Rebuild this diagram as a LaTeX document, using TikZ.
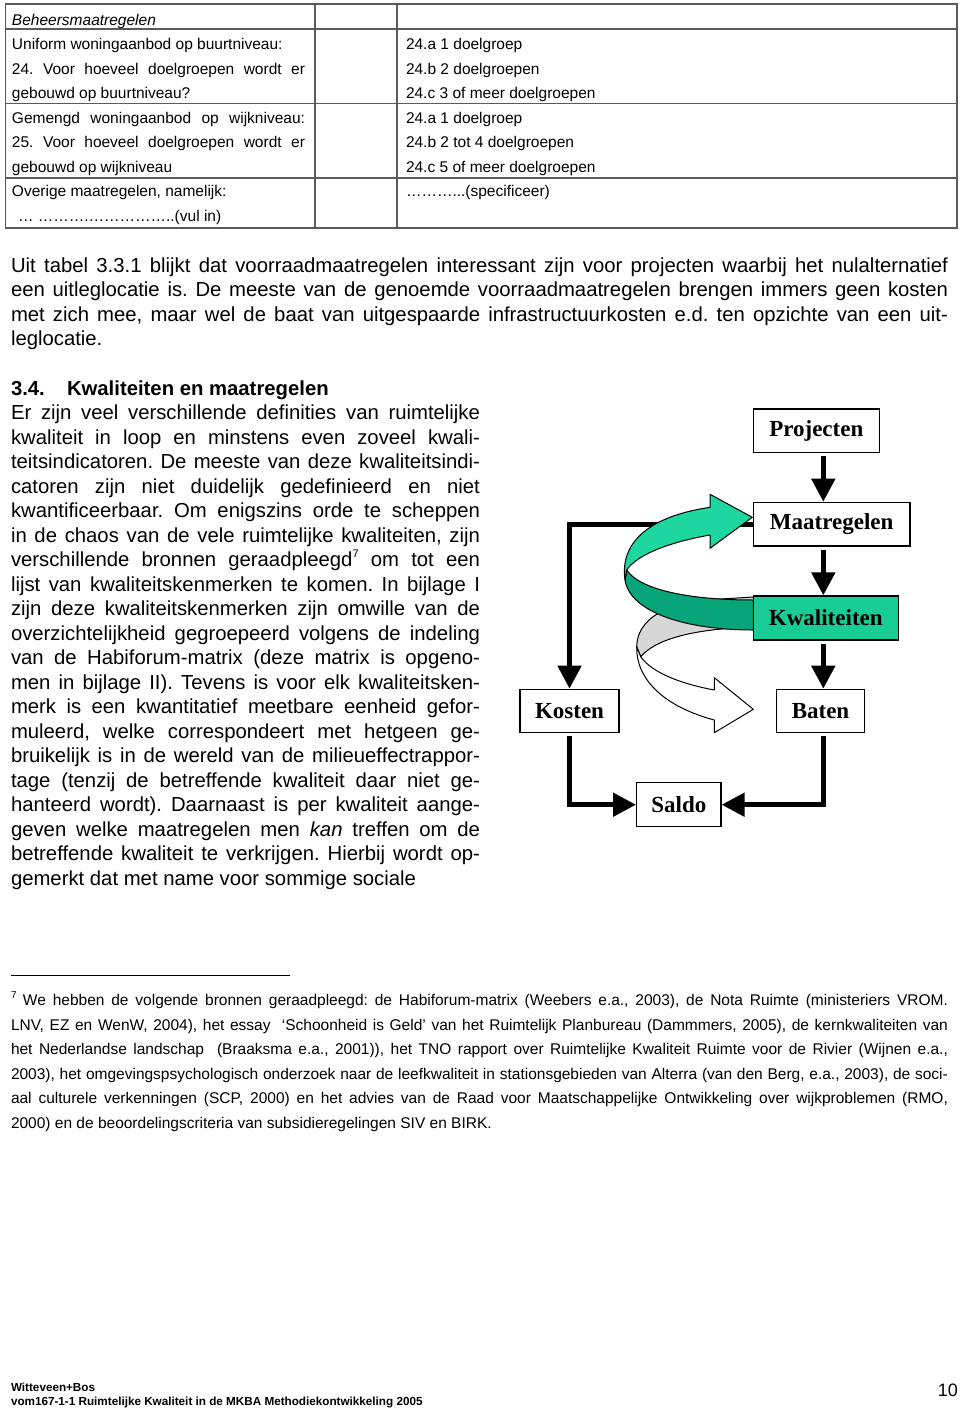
\documentclass[tikz,border=0pt]{standalone}
\usepackage{fontspec}
\setmainfont{Liberation Sans}
\newfontfamily\tnr{Liberation Serif}
\usetikzlibrary{arrows.meta}
\definecolor{tealbox}{RGB}{24,204,150}
\definecolor{teallight}{RGB}{30,214,160}
\definecolor{tealdark}{RGB}{8,165,122}
\definecolor{ribgray}{RGB}{215,215,215}
\definecolor{tabline}{RGB}{90,90,90}
\newcommand{\jb}[1]{\makebox[469pt][s]{#1}}
\newcommand{\jw}[1]{\makebox[937pt][s]{#1}}
\newcommand{\jt}[1]{\makebox[293pt][s]{#1}}
\newcommand{\fnm}{\raisebox{0.45em}{\fontsize{11}{11}\selectfont 7}}
\pgfdeclarelayer{bg}
\pgfsetlayers{bg,main}
\frenchspacing
\begin{document}
\frenchspacing
\begin{tikzpicture}[x=1pt,y=-1pt,
  txt/.style={anchor=base west, inner sep=0pt, outer sep=0pt},
  body/.style={txt, font=\frenchspacing\fontsize{20.3}{24.5}\selectfont},
  small/.style={txt, font=\frenchspacing\fontsize{15.5}{24.5}\selectfont},
  foot/.style={txt, font=\bfseries\fontsize{11.7}{14}\selectfont},
  box/.style={draw, line width=1.3pt, fill=white, inner sep=0pt, align=center,
    font=\tnr\bfseries\fontsize{23}{23}\selectfont},
  conn/.style={line width=5pt, -{Triangle[width=23pt,length=23pt]}},
  ribbon/.style={draw=black, line width=1pt, line join=round},
  tab/.style={draw=tabline, line width=1.5pt}]
\useasboundingbox (0,0) rectangle (960,1408);
\begin{pgfonlayer}{bg}
\fill[white] (0,0) rectangle (960,1408);
\end{pgfonlayer}

% ---------- table ----------
\draw[tab] (5.5,4) rectangle (957,228);
\draw[tab] (5.5,29) -- (957,29);
\draw[tab] (5.5,103.5) -- (957,103.5);
\draw[tab] (5.5,178) -- (957,178);
\draw[tab] (315,4) -- (315,228);
\draw[tab] (397,4) -- (397,228);

\node[small] (th) at (12,25) {\itshape Beheersmaatregelen};
\node[small] (ta1) at (12,49.5) {Uniform woningaanbod op buurtniveau:};
\node[small] (ta2) at (12,74) {\jt{24. Voor hoeveel doelgroepen wordt er}};
\node[small] (ta3) at (12,98.5) {gebouwd op buurtniveau?};
\node[small] (tb1) at (12,123) {\jt{Gemengd woningaanbod op wijkniveau:}};
\node[small] (tb2) at (12,147.5) {\jt{25. Voor hoeveel doelgroepen wordt er}};
\node[small] (tb3) at (12,172) {gebouwd op wijkniveau};
\node[small] (tc1) at (12,196.5) {Overige maatregelen, namelijk:};
\node[small] (tc2) at (18,221) {… ……….……………..(vul in)};
\node[small] (ra1) at (406,49.5) {24.a 1 doelgroep};
\node[small] (ra2) at (406,74) {24.b 2 doelgroepen};
\node[small] (ra3) at (406,98.5) {24.c 3 of meer doelgroepen};
\node[small] (rb1) at (406,123) {24.a 1 doelgroep};
\node[small] (rb2) at (406,147.5) {24.b 2 tot 4 doelgroepen};
\node[small] (rb3) at (406,172) {24.c 5 of meer doelgroepen};
\node[small] (rc1) at (406,196.5) {………...(specificeer)};

% ---------- paragraph 1 ----------
\node[body] (p1) at (11,272) {\jw{Uit tabel 3.3.1 blijkt dat voorraadmaatregelen interessant zijn voor projecten waarbij het nulalternatief}};
\node[body] (p2) at (11,296.5) {\jw{een uitleglocatie is. De meeste van de genoemde voorraadmaatregelen brengen immers geen kosten}};
\node[body] (p3) at (11,321) {\jw{met zich mee, maar wel de baat van uitgespaarde infrastructuurkosten e.d. ten opzichte van een uit-}};
\node[body] (p4) at (11,345.5) {leglocatie.};

% ---------- heading ----------
\node[body, font=\bfseries\fontsize{20.3}{24.5}\selectfont] (h1) at (11,395) {3.4.};
\node[body, font=\bfseries\fontsize{20.3}{24.5}\selectfont] (h2) at (67,395) {Kwaliteiten en maatregelen};

% ---------- body column ----------
\node[body] (b1) at (11,419.5) {\jb{Er zijn veel verschillende definities van ruimtelijke}};
\node[body] (b2) at (11,444) {\jb{kwaliteit in loop en minstens even zoveel kwali-}};
\node[body] (b3) at (11,468.5) {\jb{teitsindicatoren. De meeste van deze kwaliteitsindi-}};
\node[body] (b4) at (11,493) {\jb{catoren zijn niet duidelijk gedefinieerd en niet}};
\node[body] (b5) at (11,517.5) {\jb{kwantificeerbaar. Om enigszins orde te scheppen}};
\node[body] (b6) at (11,542) {\jb{in de chaos van de vele ruimtelijke kwaliteiten, zijn}};
\node[body] (b7) at (11,566.5) {\jb{verschillende bronnen geraadpleegd\fnm{} om tot een}};
\node[body] (b8) at (11,591) {\jb{lijst van kwaliteitskenmerken te komen. In bijlage I}};
\node[body] (b9) at (11,615.5) {\jb{zijn deze kwaliteitskenmerken zijn omwille van de}};
\node[body] (b10) at (11,640) {\jb{overzichtelijkheid gegroepeerd volgens de indeling}};
\node[body] (b11) at (11,664.5) {\jb{van de Habiforum-matrix (deze matrix is opgeno-}};
\node[body] (b12) at (11,689) {\jb{men in bijlage II). Tevens is voor elk kwaliteitsken-}};
\node[body] (b13) at (11,713.5) {\jb{merk is een kwantitatief meetbare eenheid gefor-}};
\node[body] (b14) at (11,738) {\jb{muleerd, welke correspondeert met hetgeen ge-}};
\node[body] (b15) at (11,762.5) {\jb{bruikelijk is in de wereld van de milieueffectrappor-}};
\node[body] (b16) at (11,787) {\jb{tage (tenzij de betreffende kwaliteit daar niet ge-}};
\node[body] (b17) at (11,811.5) {\jb{hanteerd wordt). Daarnaast is per kwaliteit aange-}};
\node[body] (b18) at (11,836) {\jb{geven welke maatregelen men \textit{kan} treffen om de}};
\node[body] (b19) at (11,860.5) {\jb{betreffende kwaliteit te verkrijgen. Hierbij wordt op-}};
\node[body] (b20) at (11,885) {gemerkt dat met name voor sommige sociale};

% ---------- diagram boxes ----------
\node[box, minimum width=126pt, minimum height=43.7pt] (proj) at (816.3,430.8) {Projecten};
\node[box, minimum width=156.7pt, minimum height=43.7pt] (maat) at (831.7,524.2) {Maatregelen};
\node[box, fill=tealbox, minimum width=145pt, minimum height=44pt] (kwal) at (825.8,618) {Kwaliteiten};
\node[box, minimum width=99pt, minimum height=43.4pt] (kost) at (569.5,711) {Kosten};
\node[box, minimum width=87.6pt, minimum height=43.4pt] (bate) at (820.5,711) {Baten};
\node[box, minimum width=84.3pt, minimum height=44pt] (sald) at (678.8,804.7) {Saldo};
\coordinate (spine) at (823.3,0);

\begin{pgfonlayer}{bg}
\draw[conn, shorten <=3pt] (proj.south -| spine) -- (maat.north -| spine);
\draw[conn, shorten <=3pt] (maat.south -| spine) -- (kwal.north -| spine);
\draw[conn, shorten <=3pt] (kwal.south -| spine) -- (bate.north -| spine);
\draw[conn] (maat.west) -| (kost.north);
\draw[conn, shorten <=3pt] (kost.south) |- (sald.west);
\draw[conn, shorten <=3pt] (bate.south -| spine) |- (sald.east);

% gray back of white ribbon
\draw[ribbon, fill=ribgray] (753.3,597) -- (713,599.5) .. controls (665,602) and (637,620) .. (636.7,646.7)
  -- (640.7,656.7) .. controls (655,640) and (690,629) .. (753.3,627) -- cycle;
% white ribbon arrow
\draw[ribbon, fill=white] (636.7,646.7) .. controls (636,678) and (662,706) .. (714.3,720)
  -- (714.3,732.7) -- (753.3,709.3) -- (714.3,677.7) -- (714.3,690)
  .. controls (682,684) and (652,673) .. (640.7,656.7) -- cycle;
% teal dark back
\draw[ribbon, fill=tealdark] (626.7,570) .. controls (640,590) and (690,600) .. (753.3,600)
  -- (753.3,630) .. controls (685,630) and (630,612) .. (625,580) -- cycle;
% teal light front arrow
\draw[ribbon, fill=teallight] (625,580) .. controls (620,545) and (645,517) .. (710,507.3)
  -- (710,494.3) -- (752.3,517.3) -- (710,548.3) -- (710,535)
  .. controls (665,543) and (636,556) .. (626.7,570) -- cycle;
\end{pgfonlayer}

% ---------- footnote ----------
\coordinate (fr1) at (11,975);
\coordinate (fr2) at (290,975);
\draw[line width=1pt] (fr1) -- (fr2);
\node[txt, font=\fontsize{10}{10}\selectfont] (fnm) at (11,998.5) {7};
\node[small] (f1) at (23,1005.5) {\makebox[925pt][s]{We hebben de volgende bronnen geraadpleegd: de Habiforum-matrix (Weebers e.a., 2003), de Nota Ruimte (ministeriers VROM.}};
\node[small] (f2) at (11,1030) {\jw{LNV, EZ en WenW, 2004), het essay\ \ ‘Schoonheid is Geld’ van het Ruimtelijk Planbureau (Dammmers, 2005), de kernkwaliteiten van}};
\node[small] (f3) at (11,1054.5) {\jw{het Nederlandse landschap\ \ (Braaksma e.a., 2001)), het TNO rapport over Ruimtelijke Kwaliteit Ruimte voor de Rivier (Wijnen e.a.,}};
\node[small] (f4) at (11,1079) {\jw{2003), het omgevingspsychologisch onderzoek naar de leefkwaliteit in stationsgebieden van Alterra (van den Berg, e.a., 2003), de soci-}};
\node[small] (f5) at (11,1103.5) {\jw{aal culturele verkenningen (SCP, 2000) en het advies van de Raad voor Maatschappelijke Ontwikkeling over wijkproblemen (RMO,}};
\node[small] (f6) at (11,1128) {2000) en de beoordelingscriteria van subsidieregelingen SIV en BIRK.};

% ---------- page footer ----------
\node[foot] (ft1) at (11,1391.5) {Witteveen+Bos};
\node[foot] (ft2) at (11,1405) {vom167-1-1 Ruimtelijke Kwaliteit in de MKBA Methodiekontwikkeling 2005};
\node[txt, anchor=base east, font=\fontsize{18}{18}\selectfont] (pg) at (958,1396) {10};
\end{tikzpicture}
\end{document}
